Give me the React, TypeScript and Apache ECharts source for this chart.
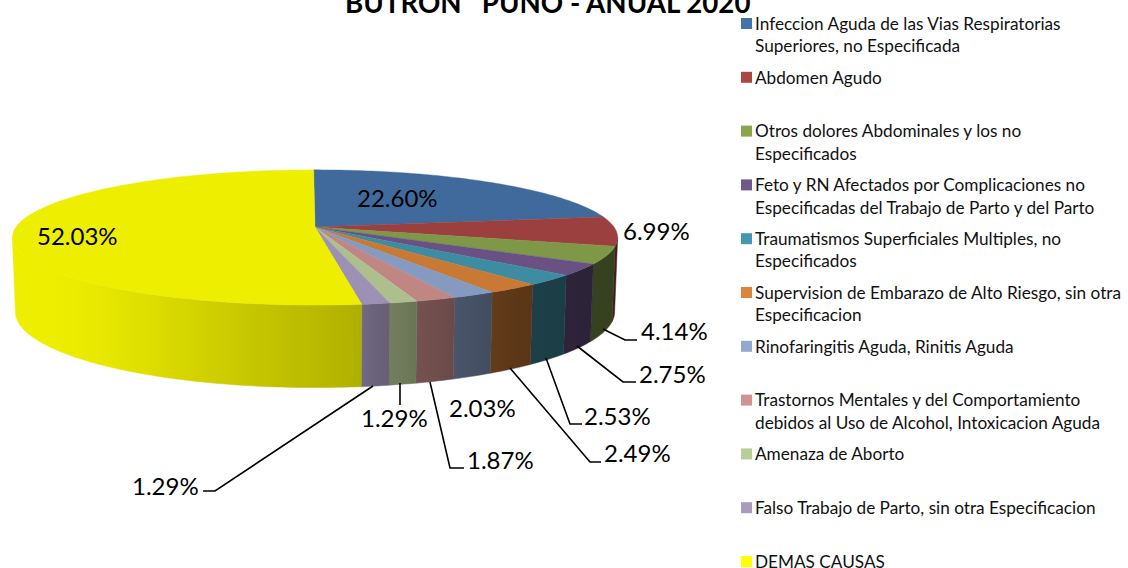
import React, { useEffect, useRef } from "react";
import * as echarts from "echarts";

const titleText = "BUTRON   PUNO - ANUAL 2020";

const categories = [
  "Infeccion Aguda de las Vias Respiratorias\nSuperiores, no Especificada",
  "Abdomen Agudo",
  "Otros dolores Abdominales y los no\nEspecificados",
  "Feto y RN Afectados por Complicaciones no\nEspecificadas del Trabajo de Parto y del Parto",
  "Traumatismos Superficiales Multiples, no\nEspecificados",
  "Supervision de Embarazo de Alto Riesgo, sin otra\nEspecificacion",
  "Rinofaringitis Aguda, Rinitis Aguda",
  "Trastornos Mentales y del Comportamiento\ndebidos al Uso de Alcohol, Intoxicacion Aguda",
  "Amenaza de Aborto",
  "Falso Trabajo de Parto, sin otra Especificacion",
  "DEMAS CAUSAS",
];

const values = [22.6, 6.99, 4.14, 2.75, 2.53, 2.49, 2.03, 1.87, 1.29, 1.29, 52.03];

const legendColors = ["#4572a7", "#aa4643", "#89a54e", "#71588f", "#4198af", "#db843d", "#93a9cf", "#d19392", "#b9cd96", "#a99bbd", "#ffff00"];
const topColors = [
  [64, 106, 155], [156, 63, 63], [126, 152, 72], [105, 81, 131], [62, 140, 162], [200, 121, 52],
  [132, 154, 192], [191, 134, 131], [173, 191, 141], [156, 144, 180], [238, 238, 0],
];

// label placement: [left x, centre y]
const labelAnchors = [
  [357, 197], [623, 230], [641, 330], [639, 373], [584, 415], [604, 452],
  [449, 407], [467, 459], [361, 417], [132, 485], [37, 235],
];
const leaders = [
  null, null,
  [[603, 329], [625, 340], [637, 340]],
  [[577, 346], [623, 382], [636, 382]],
  [[546, 358], [570, 424], [582, 424]],
  [[510, 368], [590, 462], [601, 462]],
  null,
  [[430, 382], [450, 468], [464, 468]],
  [[400, 383], [400, 405]],
  [[373, 386], [215, 491], [203, 491]],
  null,
];

// pie projection
const CX = 315, CY = 227, P = 0.155, A = 299, B = 66;
const A2 = 296, B2 = 74, DEPTH = 73;
const RIGHT_EDGE = 98.9, LEFT_EDGE = 261.1;
const START_ANGLE = -0.3;

const project = (deg: number, a: number, b: number, dy: number) => {
  const t = (deg * Math.PI) / 180;
  const u = Math.sin(t), v = -Math.cos(t), w = 1 - P * v;
  return [CX + (a * u) / w, CY + dy + (b * v) / w];
};
const topPt = (d: number) => project(d, A, B, 0);
const botPt = (d: number) => project(d, A2, B2, DEPTH);

const shadeX = [12, 60, 120, 200, 280, 360, 375, 402, 435, 472, 512, 550, 580, 620];
const shadeY = [1, 1, 0.96, 0.88, 0.81, 0.74, 0.68, 0.64, 0.58, 0.53, 0.46, 0.44, 0.43, 0.43];
const shadeAt = (x: number) => {
  for (let i = 1; i < shadeX.length; i++) {
    if (x <= shadeX[i]) {
      const f = (x - shadeX[i - 1]) / (shadeX[i] - shadeX[i - 1]);
      return shadeY[i - 1] + f * (shadeY[i] - shadeY[i - 1]);
    }
  }
  return shadeY[shadeY.length - 1];
};

const total = values.reduce((s, v) => s + v, 0);
const starts: number[] = [];
values.reduce((acc, v, i) => {
  starts[i] = acc;
  return acc + (v / total) * 360;
}, START_ANGLE);

const rgb = (c: number[], k = 1) => `rgb(${c.map((n) => Math.round(n * k)).join(",")})`;

const renderSlice = (i: number) => (_params: any, api: any) => {
  const val = api.value(0);
  const a0 = starts[i];
  const a1 = a0 + (val / total) * 360;
  const children: any[] = [];
  const lo = Math.max(a0, RIGHT_EDGE), hi = Math.min(a1, LEFT_EDGE);
  if (hi > lo) {
    const upper: number[][] = [], lower: number[][] = [];
    for (let d = lo; d < hi; d += 1) { upper.push(topPt(d)); lower.push(botPt(d)); }
    upper.push(topPt(hi)); lower.push(botPt(hi));
    const x1 = upper[0][0], x2 = upper[upper.length - 1][0];
    const stops = [];
    const n = Math.max(2, Math.ceil((x1 - x2) / 20));
    for (let k = 0; k <= n; k++) {
      const x = x1 + ((x2 - x1) * k) / n;
      stops.push({ offset: k / n, color: rgb(topColors[i], shadeAt(x)) });
    }
    const fill = new echarts.graphic.LinearGradient(x1, 0, x2, 0, stops, true);
    children.push({
      type: "polygon",
      shape: { points: upper.concat(lower.reverse()) },
      style: { fill, stroke: fill, lineWidth: 0.5 },
    });
  }
  const arc: number[][] = [[CX, CY]];
  for (let d = a0; d < a1; d += 1) arc.push(topPt(d));
  arc.push(topPt(a1));
  children.push({
    type: "polygon",
    shape: { points: arc },
    style: { fill: rgb(topColors[i]), stroke: rgb(topColors[i]), lineWidth: 0.4 },
  });
  return { type: "group", children };
};

const FONT = "Lato";
const squareIcon = "path://M0 0L0 0M11 45L11 45M0 6H11V17H0Z";

export default function App() {
  const ref = useRef<HTMLDivElement>(null);
  useEffect(() => {
    document.body.style.margin = "0";
    const chart = echarts.init(ref.current!, undefined, { renderer: "svg" });
    const labelGraphics: any[] = [];
    values.forEach((v, i) => {
      const seg = leaders[i];
      if (seg) {
        labelGraphics.push({
          type: "polyline",
          z: 50,
          shape: { points: seg },
          style: { stroke: "#000", lineWidth: 1.6, fill: "none" },
        });
      }
      labelGraphics.push({
        type: "text",
        z: 51,
        x: labelAnchors[i][0],
        y: labelAnchors[i][1],
        style: {
          text: `${v.toFixed(2)}%`,
          font: `24px ${FONT}`,
          fill: "#000",
          verticalAlign: "middle",
          align: "left",
        },
      });
    });
    chart.setOption({
      animation: false,
      title: {
        text: titleText,
        left: 345,
        top: -12,
        padding: 0,
        textStyle: { fontFamily: FONT, fontSize: 27.7, fontWeight: "bold", color: "#000" },
      },
      legend: {
        orient: "vertical",
        left: 741,
        top: 12,
        height: 640,
        padding: 0,
        itemWidth: 11,
        itemHeight: 45,
        itemGap: 8.8,
        selectedMode: false,
        data: categories.map((name, i) => ({
          name,
          icon: squareIcon,
          itemStyle: { color: legendColors[i], borderWidth: 0 },
        })),
        formatter: (name: string) => (name.includes("\n") ? name : `${name}\n `),
        textStyle: { fontFamily: FONT, fontSize: 17.2, lineHeight: 22.5, color: "#111", padding: [0, 0, 0, -2] },
      },
      graphic: labelGraphics,
      series: categories.map((name, i) => ({
        type: "custom",
        name,
        coordinateSystem: "none",
        data: [[values[i]]],
        itemStyle: { color: legendColors[i] },
        renderItem: renderSlice(i),
        silent: true,
      })),
    });
    return () => chart.dispose();
  }, []);
  return <div ref={ref} style={{ width: 1128, height: 568 }} />;
}
